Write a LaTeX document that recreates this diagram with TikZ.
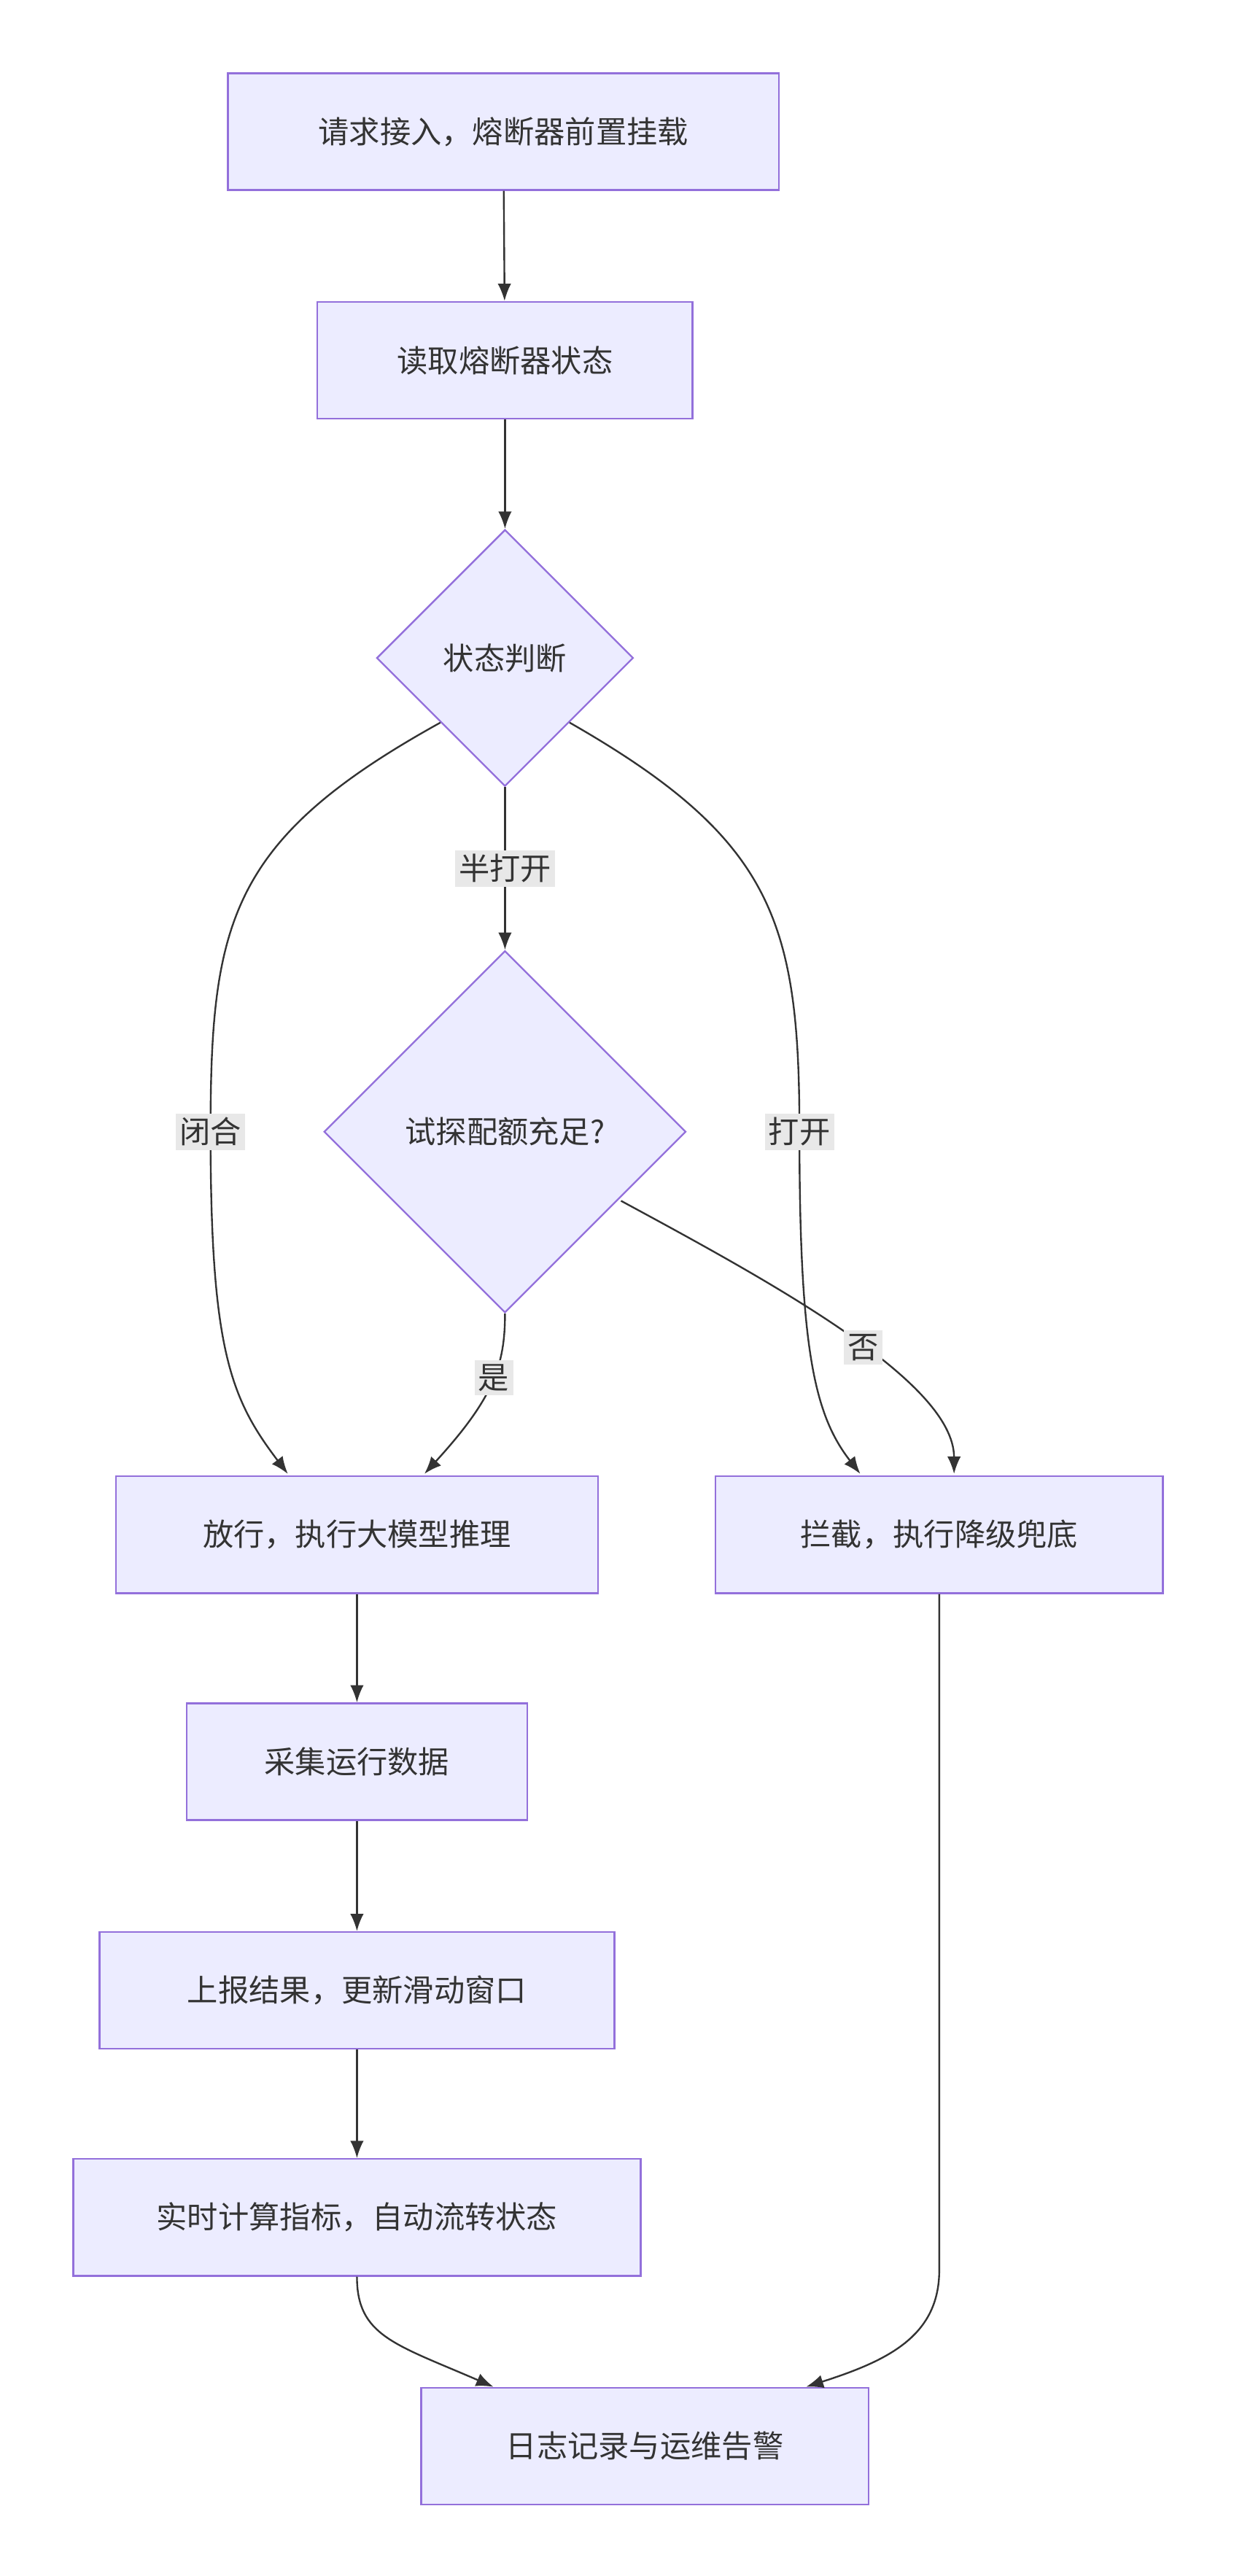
\documentclass[tikz,border=0pt]{standalone}
\usepackage{fontspec}
\setmainfont{Noto Sans CJK SC}
\usetikzlibrary{shapes.geometric,arrows.meta}
\definecolor{boxfill}{HTML}{ECECFF}
\definecolor{boxline}{HTML}{9370DB}
\definecolor{arrowc}{HTML}{333333}
\definecolor{labelbg}{HTML}{E8E8E8}
\begin{document}
\begin{tikzpicture}[x=0.03cm,y=-0.03cm,
  box/.style={draw=boxline,fill=boxfill,line width=0.9pt,minimum height=2.13cm,font=\fontsize{16}{19}\selectfont,text=arrowc},
  dec/.style={draw=boxline,fill=boxfill,line width=0.9pt,diamond,inner sep=0pt,font=\fontsize{16}{19}\selectfont,text=arrowc},
  arr/.style={draw=arrowc,line width=0.9pt,-{Latex[length=9pt,width=7pt]}},
  lab/.style={fill=labelbg,inner sep=2pt,font=\fontsize{16}{19}\selectfont,text=arrowc}]
\useasboundingbox (0,0) rectangle (750,1566);

\node [box,minimum width=10.05cm] (req) at (306,80) {请求接入，熔断器前置挂载};
\node [box,minimum width=6.84cm] (read) at (307,219) {读取熔断器状态};
\node [dec,minimum width=4.68cm,minimum height=4.68cm] (state) at (307,400) {状态判断};
\node [dec,minimum width=6.6cm,minimum height=6.6cm] (quota) at (307,688) {试探配额充足?};
\node [box,minimum width=8.79cm] (pass) at (217,933) {放行，执行大模型推理};
\node [box,minimum width=8.16cm] (block) at (571,933) {拦截，执行降级兜底};
\node [box,minimum width=6.21cm] (collect) at (217,1071) {采集运行数据};
\node [box,minimum width=9.39cm] (report) at (217,1210) {上报结果，更新滑动窗口};
\node [box,minimum width=10.35cm] (calc) at (217,1348) {实时计算指标，自动流转状态};
\node [box,minimum width=8.16cm] (log) at (392,1487) {日志记录与运维告警};

\coordinate (passA) at (175,896);
\coordinate (passB) at (258,896);
\coordinate (blockA) at (523,896);
\coordinate (blockB) at (580,896);
\coordinate (logA) at (300,1451);
\coordinate (logB) at (490,1451);

\draw [arr] (req) -- (read);
\draw [arr] (read) -- (state);
\draw [arr] (state) -- node [lab] {半打开} (quota);
\draw [arr] (state.south west) .. controls (140,510) and (128,560) .. (128,688)
  node [lab] {闭合} .. controls (128,820) and (140,850) .. (passA);
\draw [arr] (state.south east) .. controls (470,510) and (486,560) .. (486,688)
  node [lab] {打开} .. controls (486,820) and (495,860) .. (blockA);
\draw [arr] (quota.south) .. controls (307,830) and (300,850) .. node [lab,pos=0.45] {是} (passB);
\draw [arr] (quota.east) ++(-40,42) coordinate (qe) (qe) .. controls (470,780) and (580,840) .. node [lab,pos=0.55] {否} (blockB);
\draw [arr] (pass) -- (collect);
\draw [arr] (collect) -- (report);
\draw [arr] (report) -- (calc);
\draw [arr] (calc.south) .. controls (217,1420) and (240,1425) .. (logA);
\draw [arr] (block.south) -- (571,1380) .. controls (571,1420) and (540,1435) .. (logB);

\end{tikzpicture}
\end{document}
